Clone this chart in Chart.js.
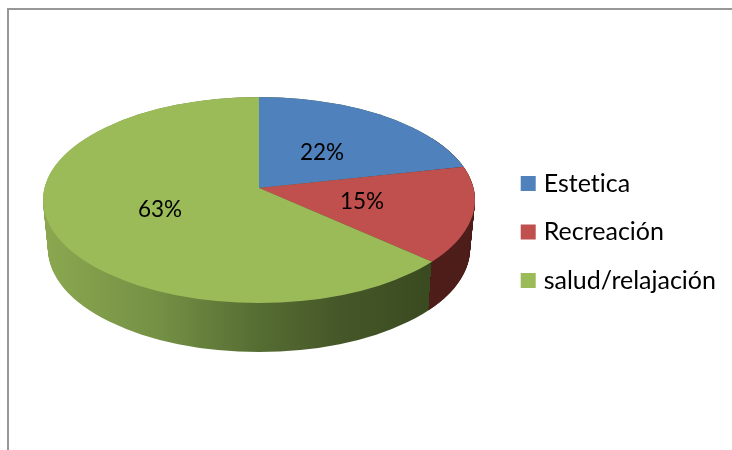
<!DOCTYPE html>
<html>
<head>
<meta charset="utf-8">
<title>Pie</title>
<script src="https://cdn.jsdelivr.net/npm/chart.js@4/dist/chart.umd.min.js"></script>
<style>
  body { margin: 0; background: #fff; }
  canvas { display: block; }
</style>
</head>
<body>
<canvas id="pieChart" width="732" height="450"></canvas>
<script>
const categories = ['Estetica', 'Recreación', 'salud/relajación'];
const shares = [22, 15, 63];
const sliceColors = ['#4f81bd', '#c0504d', '#9bbb59'];

// Geometry of the tilted pie
const APEX = { x: 259, y: 188 };
const TOP = { x: 259, y: 200, rx: 216, ry: 103 };
const DEPTH = 49;
const NARROW = 5; // bottom rim is a bit narrower (perspective)
const SCALE_X = 1.3;
const UPPER_RATIO = 1.853;
const LOWER_RATIO = 2.206;
const LABEL_POS = [[322, 153], [362, 202], [160, 210]];

function topEllipse(ctx) {
    ctx.beginPath();
    ctx.ellipse(TOP.x, TOP.y, TOP.rx, TOP.ry, 0, 0, Math.PI * 2);
}

function drawSideStack(ctx, fill) {
    ctx.fillStyle = fill;
    for (let d = DEPTH; d >= 0; d--) {
        ctx.beginPath();
        ctx.ellipse(TOP.x, TOP.y + d, TOP.rx - NARROW * d / DEPTH, TOP.ry, 0, 0, Math.PI * 2);
        ctx.fill();
    }
}

// where a slice edge leaves the apex and meets the rim of the top face
function rimPoint(angle) {
    const s = Math.sin(angle);
    const dx = SCALE_X * Math.cos(angle);
    const dy = SCALE_X / (s < 0 ? UPPER_RATIO : LOWER_RATIO) * s;
    const ox = (APEX.x - TOP.x) / TOP.rx, oy = (APEX.y - TOP.y) / TOP.ry;
    const ux = dx / TOP.rx, uy = dy / TOP.ry;
    const a = ux * ux + uy * uy, b = 2 * (ox * ux + oy * uy), c = ox * ox + oy * oy - 1;
    const t = (-b + Math.sqrt(b * b - 4 * a * c)) / (2 * a);
    return { x: APEX.x + dx * t, y: APEX.y + dy * t };
}

const tiltedPie = {
    id: 'tiltedPie',
    beforeDraw(chart) {
        const ctx = chart.ctx;
        // no "ti" ligature in the labels
        ctx.textRendering = 'optimizeSpeed';
        ctx.save();
        ctx.strokeStyle = '#979797';
        ctx.lineWidth = 2;
        ctx.beginPath();
        ctx.moveTo(8, 450);
        ctx.lineTo(8, 9);
        ctx.lineTo(732, 9);
        ctx.stroke();
        ctx.restore();
    },
    beforeDatasetsDraw(chart) {
        const ctx = chart.ctx;
        const arcs = chart.getDatasetMeta(0).data;

        // side wall
        const green = ctx.createLinearGradient(TOP.x - TOP.rx, 0, 433, 0);
        green.addColorStop(0, '#8ba850');
        green.addColorStop(0.3, '#749044');
        green.addColorStop(0.55, '#566d33');
        green.addColorStop(0.75, '#465828');
        green.addColorStop(1, '#3a4a20');
        ctx.save();
        drawSideStack(ctx, green);
        ctx.restore();

        const p = rimPoint(arcs[1].endAngle);
        ctx.save();
        ctx.beginPath();
        ctx.moveTo(p.x, 0);
        ctx.lineTo(620, 0);
        ctx.lineTo(620, 450);
        ctx.lineTo(p.x - 13, 450);
        ctx.lineTo(p.x, p.y);
        ctx.closePath();
        ctx.clip();
        drawSideStack(ctx, '#4f1f1c');
        ctx.restore();

        // top face, the library's arcs mapped on to the tilted plane
        [[0, APEX.y, UPPER_RATIO], [APEX.y, 450, LOWER_RATIO]].forEach(([y0, y1, ratio]) => {
            ctx.save();
            topEllipse(ctx);
            ctx.clip();
            ctx.beginPath();
            ctx.rect(0, y0, 732, y1 - y0);
            ctx.clip();
            ctx.translate(APEX.x, APEX.y);
            ctx.scale(SCALE_X, SCALE_X / ratio);
            arcs.forEach(arc => {
                ctx.save();
                ctx.translate(-arc.x, -arc.y);
                arc.draw(ctx);
                ctx.restore();
            });
            ctx.restore();
        });

        // percentages
        ctx.save();
        ctx.fillStyle = '#000';
        ctx.font = '22.5px Lato';
        ctx.textAlign = 'center';
        ctx.textBaseline = 'middle';
        shares.forEach((v, i) => {
            ctx.fillText(v + '%', LABEL_POS[i][0], LABEL_POS[i][1]);
        });
        ctx.restore();
        return false;
    }
};

const defaultLabels = Chart.overrides.pie.plugins.legend.labels.generateLabels;

new Chart(document.getElementById('pieChart').getContext('2d'), {
    type: 'pie',
    data: {
        labels: categories,
        datasets: [{
            data: shares,
            backgroundColor: sliceColors,
            borderWidth: 0
        }]
    },
    options: {
        responsive: false,
        animation: false,
        radius: 216,
        layout: { padding: { top: 14, right: 6 } },
        plugins: {
            tooltip: { enabled: false },
            legend: {
                position: 'right',
                labels: {
                    color: '#000',
                    font: { family: 'Lato', size: 25 },
                    boxWidth: 6,
                    boxHeight: 6,
                    padding: 23.5,
                    generateLabels(chart) {
                        return defaultLabels(chart).map(item => {
                            item.strokeStyle = item.fillStyle;
                            item.lineWidth = 9;
                            return item;
                        });
                    }
                }
            }
        }
    },
    plugins: [tiltedPie]
});
</script>
</body>
</html>
